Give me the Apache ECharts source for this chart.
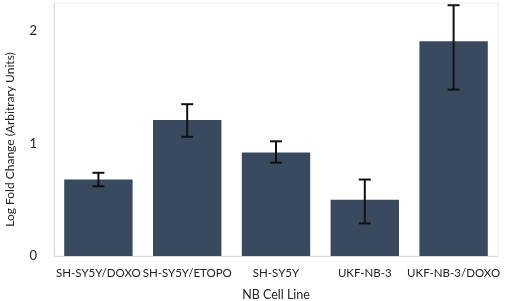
<!DOCTYPE html>
<html>
<head>
<meta charset="utf-8">
<script src="https://cdn.jsdelivr.net/npm/echarts@6/dist/echarts.min.js"></script>
<style>
  html, body { margin: 0; padding: 0; background: #fff; }
  #chart { width: 511px; height: 301px; }
</style>
</head>
<body>
<div id="chart"></div>
<script>
// values
const cellLines = ['SH-SY5Y/DOXO', 'SH-SY5Y/ETOPO', 'SH-SY5Y', 'UKF-NB-3', 'UKF-NB-3/DOXO']
const foldChange = [0.68, 1.21, 0.92, 0.50, 1.91]
const errLow = [0.62, 1.06, 0.83, 0.29, 1.48]
const errHigh = [0.74, 1.35, 1.02, 0.68, 2.23]
const yTicks = [0, 1, 2]

const chart = echarts.init(document.getElementById('chart'))

const font = 'Lato'

const option = {
  animation: false,
  grid: {
    left: 54, right: 13, top: 3, bottom: 45,
    outerBoundsMode: 'none',
    show: true, borderColor: '#eeeeee', borderWidth: 1
  },
  xAxis: {
    type: 'category',
    data: cellLines,
    name: 'NB Cell Line',
    nameLocation: 'middle',
    nameGap: 32,
    nameTextStyle: { fontFamily: font, fontSize: 12.5, color: '#222' },
    axisLine: { lineStyle: { color: '#d9d9d9' } },
    axisTick: { show: false },
    axisLabel: { fontFamily: font, fontSize: 11.5, color: '#222', margin: 11, interval: 0 }
  },
  yAxis: {
    type: 'value',
    min: 0,
    max: 2.25,
    interval: 1,
    name: 'Log Fold Change (Arbitrary Units)',
    nameLocation: 'middle',
    nameGap: 38,
    nameTextStyle: { fontFamily: font, fontSize: 12, color: '#222', padding: [0, 20, 0, 0] },
    axisLine: { show: true, lineStyle: { color: '#d9d9d9' } },
    axisTick: { show: false },
    splitLine: { show: false },
    axisLabel: {
      fontFamily: font, fontSize: 13, color: '#222', margin: 17,
      formatter: v => (yTicks.includes(v) ? String(v) : '')
    }
  },
  series: [
    {
      type: 'bar',
      data: foldChange,
      barWidth: '77%',
      itemStyle: { color: '#3a4a5e' }
    },
    {
      type: 'custom',
      data: cellLines.map((c, i) => [i, errLow[i], errHigh[i]]),
      z: 10,
      renderItem: (params, api) => {
        const lo = api.coord([api.value(0), api.value(1)])
        const hi = api.coord([api.value(0), api.value(2)])
        const cap = 6
        const style = { stroke: '#111', lineWidth: 2 }
        return {
          type: 'group',
          children: [
            { type: 'line', shape: { x1: lo[0], y1: lo[1], x2: hi[0], y2: hi[1] }, style },
            { type: 'line', shape: { x1: lo[0] - cap, y1: lo[1], x2: lo[0] + cap, y2: lo[1] }, style },
            { type: 'line', shape: { x1: hi[0] - cap, y1: hi[1], x2: hi[0] + cap, y2: hi[1] }, style }
          ]
        }
      }
    }
  ]
}

chart.setOption(option)
</script>
</body>
</html>
